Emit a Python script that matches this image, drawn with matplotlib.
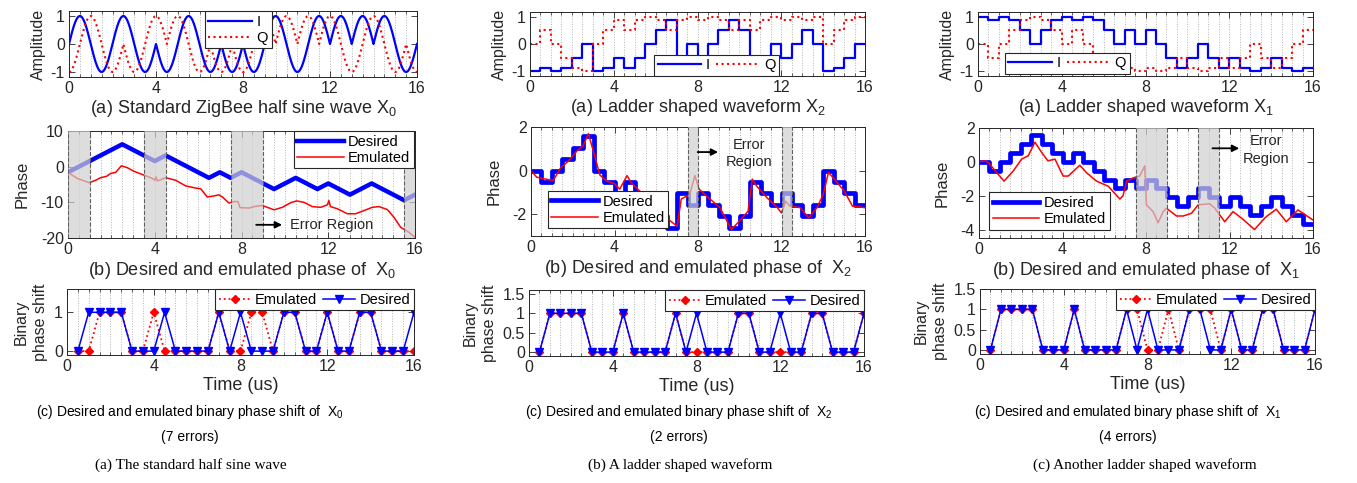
import numpy as np
import matplotlib
matplotlib.use('Agg')
import matplotlib.pyplot as plt
from matplotlib.ticker import MultipleLocator, FuncFormatter
from matplotlib import font_manager as fm

names = {f.name for f in fm.fontManager.ttflist}
SANS = 'Liberation Sans' if 'Liberation Sans' in names else 'DejaVu Sans'
NARROW = 'Liberation Sans Narrow' if 'Liberation Sans Narrow' in names else None
SERIF = 'Liberation Serif' if 'Liberation Serif' in names else 'DejaVu Serif'

plt.rcParams['font.family'] = SANS
plt.rcParams['axes.unicode_minus'] = False
plt.rcParams['mathtext.fontset'] = 'custom'
plt.rcParams['mathtext.rm'] = SANS

# ================= DATA =================
# --- Column 1: standard ZigBee half-sine wave X0 (chip values) ---
zb_I_chips = [1, -1, 1, -1, -1, 1, -1, -1, -1, 1, -1, 1, 1, 1, 1, -1]          # chips on [k, k+1]
zb_Q_chips = [-1, 1, -1, -1, 1, 1, -1, -1, -1, 1, 1, 1, 1, -1, 1, -1, -1]      # chips centred at k

zb_phase_t = [0, 2.5, 4, 4.5, 6.5, 7, 7.5, 8, 9.5, 10.5, 11.5, 12, 13, 14, 15.5, 16]
zb_phase_desired = [-1.57, 6.28, 1.57, 3.14, -3.14, -1.57, -3.14, -1.57, -6.28,
                    -3.14, -6.28, -4.71, -7.85, -4.71, -9.42, -7.85]
zb_emu_t = [0, 0.43, 0.97, 1.28, 1.5, 1.78, 1.97, 2.2, 2.46, 2.74, 3.04, 3.43, 3.89, 4.0,
            4.06, 4.12, 4.5, 4.96, 5.43, 5.89, 6.12, 6.42, 6.73, 6.96, 7.12, 7.42, 7.65,
            7.84, 7.93, 8.35, 8.65, 8.96, 9.19, 9.5, 9.88, 10.27, 10.54, 10.88, 11.27,
            11.65, 11.96, 12.03, 12.1, 12.42, 12.88, 13.26, 13.65, 14.03, 14.34, 14.72,
            15.03, 15.34, 15.72, 16.0]
zb_emu_v = [-1.6, -3.3, -4.5, -3.8, -3.1, -2.7, -1.9, -1.6, 0.25, -0.3, -1.3, -2.2, -3.3,
            -3.8, -2.9, -4.0, -3.1, -3.8, -5.4, -6.0, -6.2, -8.5, -8.2, -7.9, -8.5, -10.2,
            -9.8, -9.8, -11.5, -11.6, -11.1, -10.9, -11.4, -12.1, -11.4, -10.1, -9.6,
            -10.0, -11.2, -11.4, -10.7, -9.5, -11.2, -11.8, -13.2, -13.2, -12.3, -11.4,
            -11.2, -12.0, -14.2, -17.0, -18.4, -19.8]
zb_err = [(0, 1), (3.5, 4.5), (7.5, 9), (15.5, 16)]

# --- shared binary phase shift time points ---
shift_t = [0.5, 1, 1.5, 2, 2.5, 3, 3.5, 4, 4.5, 5, 5.5, 6, 6.5, 7, 7.5, 8,
           8.5, 9, 9.5, 10, 10.5, 11, 11.5, 12, 12.5, 13, 13.5, 14, 14.5, 15, 15.5, 16]
desired_bits = [0, 1, 1, 1, 1, 0, 0, 0, 1, 0, 0, 0, 0, 1, 0, 1,
                0, 0, 0, 1, 1, 0, 0, 1, 0, 0, 1, 1, 0, 0, 0, 1]
zb_emu_bits = [0, 0, 1, 1, 1, 0, 0, 1, 0, 0, 0, 0, 0, 1, 0, 0,
               1, 1, 0, 1, 1, 0, 0, 1, 0, 0, 1, 1, 0, 0, 0, 0]
x2_emu_bits = [0, 1, 1, 1, 1, 0, 0, 0, 1, 0, 0, 0, 0, 1, 0, 0,
               0, 0, 0, 1, 1, 0, 0, 0, 0, 0, 1, 1, 0, 0, 0, 1]
x1_emu_bits = [0, 1, 1, 1, 1, 0, 0, 0, 1, 0, 0, 0, 0, 1, 1, 0,
               0, 1, 0, 1, 1, 1, 0, 1, 0, 0, 1, 1, 0, 0, 0, 1]

# --- ladder segment start times (0.5 us steps) ---
seg_t = [0, 0.5, 1, 1.5, 2, 2.5, 3, 3.5, 4, 4.5, 5, 5.5, 6, 6.5, 7, 7.5, 8,
         8.5, 9, 9.5, 10, 10.5, 11, 11.5, 12, 12.5, 13, 13.5, 14, 14.5, 15, 15.5, 16]

# --- Column 2: ladder waveform X2 ---
x2_I = [-1, -0.87, -1, -0.87, -0.5, 0, -1, -0.87, -0.5, -0.87, -0.5, 0, 0.5, 0.87, -0.5, 0,
        -0.5, 0, 0.5, 0.87, 0.5, -0.87, -0.5, 0, -0.5, 0, 0.5, 0, -1, -0.87, -0.5, 0, 0]
x2_Q = [0, 0.5, 0, -0.5, -0.87, -1, 0, 0.5, 0.87, 0.5, 0.87, 1, 0.87, 0.5, 0.87, 1,
        0.87, 1, 0.87, 0.5, 0.87, 0.5, 0.87, 1, 0.87, 1, 0.87, 1, 0, 0.5, 0.87, 1, 1]
x2_phase = [0, -0.52, 0, 0.52, 1.05, 1.57, 0, -0.52, -1.05, -0.52, -1.05, -1.57, -2.09, -2.62,
            -1.05, -1.57, -1.05, -1.57, -2.09, -2.62, -2.09, -0.52, -1.05, -1.57, -1.05, -1.57,
            -2.09, -1.57, 0, -0.52, -1.05, -1.57, -1.57]
x2_emu_t = [0, 0.27, 0.75, 1.07, 1.4, 1.8, 2.2, 2.5, 2.75, 3.07, 3.3, 3.6, 4.0, 4.25, 4.6, 4.8,
            5.2, 5.7, 6.2, 6.66, 7.0, 7.2, 7.6, 7.85, 8.05, 8.4, 9.05, 9.6, 10.0, 10.4, 10.6,
            10.8, 11.3, 11.8, 12.0, 12.2, 12.4, 12.9, 13.3, 13.7, 14.0, 14.25, 14.6, 15.0,
            15.4, 16.0]
x2_emu_v = [0, -0.3, -0.4, -0.45, 0.1, 0.45, 0.9, 1.15, 1.7, 0.6, -0.2, -0.47, -0.6, -0.85,
            -0.23, -0.55, -0.93, -1.3, -1.7, -2.3, -2.55, -1.3, -1.1, -0.23, -0.85, -1.16,
            -1.7, -2.7, -2.3, -1.86, -0.39, -0.7, -1.24, -1.7, -1.94, -1.4, -1.63, -1.7,
            -2.17, -1.7, -1.1, -0.08, -0.47, -0.93, -1.63, -1.7]
x2_err = [(7.5, 8), (12, 12.5)]

# --- Column 3: ladder waveform X1 ---
x1_I = [1, 0.87, 1, 0.87, 0.5, 0, 0.5, 0.87, 1, 0.87, 1, 0.87, 0.5, 0, 0.5, 0,
        0.5, 0, -0.5, -0.87, -0.5, 0, -0.5, -0.87, -0.5, -0.87, -1, -0.87, -0.5, -0.87, -1, -0.87, -0.87]
x1_Q = [0, -0.5, 0, 0.5, 0.87, 1, 0.87, 0.5, 0, 0.5, 0, -0.5, -0.87, -1, -0.87, -1,
        -0.87, -1, -0.87, -0.5, -0.87, -1, -0.87, -0.5, -0.87, -0.5, 0, -0.5, -0.87, -0.5, 0, 0.5, 0.5]
x1_phase = [0, -0.52, 0, 0.52, 1.05, 1.57, 1.05, 0.52, 0, 0.52, 0, -0.52, -1.05, -1.57,
            -1.05, -1.57, -1.05, -1.57, -2.09, -2.62, -2.09, -1.57, -2.09, -2.62, -2.09,
            -2.62, -3.14, -2.62, -2.09, -2.62, -3.14, -3.67, -3.67]
x1_emu_t = [0, 0.3, 0.45, 0.85, 1.2, 1.64, 2.04, 2.36, 2.68, 3.0, 3.3, 3.64, 4.03, 4.27, 4.83,
            5.15, 5.63, 6.19, 6.75, 6.9, 7.07, 7.4, 7.7, 7.94, 8.02, 8.34, 8.58, 8.82, 8.98,
            9.46, 9.78, 10.18, 10.5, 11.05, 11.3, 11.77, 12.17, 12.65, 13.2, 13.6, 13.76,
            14.24, 14.72, 15.28, 16.0]
x1_emu_v = [0, 0.06, -0.04, -0.64, -1.14, -0.54, 0.16, 0.36, 1.16, 0.56, 0.06, 0.16, -0.84,
            -0.84, -0.2, -0.64, -1.14, -1.44, -2.2, -2.0, -1.14, -0.94, -0.84, -0.24, -2.54,
            -2.94, -3.6, -2.94, -2.74, -3.2, -3.2, -3.04, -2.54, -2.48, -2.74, -3.54, -2.94,
            -3.4, -4.0, -3.44, -3.24, -2.8, -3.54, -2.84, -3.44]
x1_err = [(7.5, 9), (10.5, 11.5)]

# ================= FIGURE =================
W, H = 1357, 483
fig = plt.figure(figsize=(W / 100, H / 100), dpi=100)


def add_ax(x0, y0, x1, y1):
    return fig.add_axes([x0 / W, 1 - y1 / H, (x1 - x0) / W, (y1 - y0) / H])


TICK_FS = 11.5
LAB_FS = 11.5
CAP_FS = 13
LEG_FS = 10.5
AXC = '#262626'
fmt = FuncFormatter(lambda v, p: ('%g' % v))


def style(ax, ylim, yticks):
    ax.set_xlim(0, 16)
    ax.set_ylim(*ylim)
    ax.set_xticks([0, 4, 8, 12, 16])
    ax.set_yticks(yticks)
    ax.yaxis.set_major_formatter(fmt)
    ax.xaxis.set_minor_locator(MultipleLocator(0.5))
    ax.grid(which='both', axis='x', ls=':', color='#b4b4b4', lw=0.7)
    ax.set_axisbelow(True)
    ax.tick_params(which='both', direction='in', top=True, right=True, colors=AXC,
                   labelsize=TICK_FS, pad=3)
    ax.tick_params(which='major', length=4, width=0.6)
    ax.tick_params(which='minor', length=2, width=0.5)
    for s in ax.spines.values():
        s.set_color(AXC)
        s.set_linewidth(0.7)


def legend(ax, **kw):
    lg = ax.legend(fontsize=LEG_FS, fancybox=False, framealpha=1, edgecolor=AXC,
                   borderpad=0.25, labelspacing=0.15, handletextpad=0.3,
                   columnspacing=0.4, borderaxespad=0, **kw)
    lg.get_frame().set_linewidth(0.8)
    return lg


def shade(ax, regions):
    for a, b in regions:
        ax.axvspan(a, b, color='#cfcfcf', alpha=0.7, lw=0, zorder=5)
        ax.axvline(a, color='#606060', ls='--', lw=0.8, zorder=6)
        ax.axvline(b, color='#606060', ls='--', lw=0.8, zorder=6)


def sub(label, d):
    return label + r' X$_{\mathregular{%s}}$' % d


BLUE = '#0000ff'
RED = '#ff0000'

# ---------- row 1 ----------
ax = add_ax(69, 11, 417, 77)
tt = np.linspace(0, 16, 3201)
kI = np.clip(np.floor(tt).astype(int), 0, 15)
Iw = np.array(zb_I_chips)[kI] * np.sin(np.pi * (tt - kI))
kQ = np.clip(np.round(tt).astype(int), 0, 16)
Qw = np.array(zb_Q_chips)[kQ] * np.cos(np.pi * (tt - kQ))
ax.plot(tt, Iw, color=BLUE, lw=1.6, label='I')
ax.plot(tt, Qw, color=RED, lw=1.5, ls=':', label='Q')
style(ax, (-1.18, 1.18), [-1, 0, 1])
ax.set_ylabel('Amplitude', fontsize=LAB_FS, color=AXC, labelpad=3)
ax.set_xlabel(sub('(a) Standard ZigBee half sine wave', '0'), fontsize=CAP_FS, color=AXC, labelpad=1)
legend(ax, loc='upper left', bbox_to_anchor=(0.39, 1.0), handlelength=3.0)

ax = add_ax(530, 12, 865, 76)
ax.plot(seg_t, x2_I, color=BLUE, lw=1.6, drawstyle='steps-post', label='I')
ax.plot(seg_t, x2_Q, color=RED, lw=1.5, ls=':', drawstyle='steps-post', label='Q')
style(ax, (-1.18, 1.18), [-1, 0, 1])
ax.set_ylabel('Amplitude', fontsize=LAB_FS, color=AXC, labelpad=3)
ax.set_xlabel(sub('(a) Ladder shaped waveform', '2'), fontsize=CAP_FS, color=AXC, labelpad=1)
legend(ax, loc='lower left', bbox_to_anchor=(0.37, 0.0), ncol=2, handlelength=3.0)

ax = add_ax(978, 12, 1313, 76)
ax.plot(seg_t, x1_I, color=BLUE, lw=1.6, drawstyle='steps-post', label='I')
ax.plot(seg_t, x1_Q, color=RED, lw=1.5, ls=':', drawstyle='steps-post', label='Q')
style(ax, (-1.18, 1.18), [-1, 0, 1])
ax.set_ylabel('Amplitude', fontsize=LAB_FS, color=AXC, labelpad=3)
ax.set_xlabel(sub('(a) Ladder shaped waveform', '1'), fontsize=CAP_FS, color=AXC, labelpad=1)
legend(ax, loc='lower left', bbox_to_anchor=(0.08, 0.03), ncol=2, handlelength=3.0)

# ---------- row 2 ----------
ax = add_ax(68, 131, 415, 238)
ax.plot(zb_phase_t, zb_phase_desired, color=BLUE, lw=3.2, label='Desired')
ax.plot(zb_emu_t, zb_emu_v, color=RED, lw=1.1, label='Emulated')
shade(ax, zb_err)
style(ax, (-20, 10), [-20, -10, 0, 10])
ax.set_ylabel('Phase', fontsize=LAB_FS + 0.5, color=AXC, labelpad=8)
ax.set_xlabel(sub('(b) Desired and emulated phase of ', '0'), fontsize=CAP_FS, color=AXC, labelpad=2)
lg = legend(ax, loc='upper left', bbox_to_anchor=(0.65, 1.0), handlelength=3.2)
lg.set_zorder(10)
ax.annotate('', xy=(10.0, -16.3), xytext=(8.55, -16.3),
            arrowprops=dict(arrowstyle='-|>', color='k', lw=1.3, mutation_scale=10), zorder=10)
ax.text(10.25, -16.3, 'Error Region', fontsize=LEG_FS, va='center', ha='left', color=AXC, zorder=10)

ax = add_ax(531, 127, 865, 236)
ax.plot(seg_t, x2_phase, color=BLUE, lw=3.4, drawstyle='steps-post', label='Desired')
ax.plot(x2_emu_t, x2_emu_v, color=RED, lw=1.1, label='Emulated')
shade(ax, x2_err)
style(ax, (-3, 2), [-2, 0, 2])
ax.set_ylabel('Phase', fontsize=LAB_FS + 0.5, color=AXC, labelpad=8)
ax.set_xlabel(sub('(b) Desired and emulated phase of ', '2'), fontsize=CAP_FS, color=AXC, labelpad=2)
lg = legend(ax, loc='lower left', bbox_to_anchor=(0.05, 0.07), handlelength=3.2)
lg.set_zorder(10)
ax.annotate('', xy=(9.1, 0.85), xytext=(7.85, 0.85),
            arrowprops=dict(arrowstyle='-|>', color='k', lw=1.3, mutation_scale=10), zorder=10)
ax.text(10.45, 0.8, 'Error\nRegion', fontsize=LEG_FS, va='center', ha='center', color=AXC,
        linespacing=1.3, zorder=10)

ax = add_ax(979, 128, 1313, 238)
ax.plot(seg_t, x1_phase, color=BLUE, lw=3.4, drawstyle='steps-post', label='Desired')
ax.plot(x1_emu_t, x1_emu_v, color=RED, lw=1.1, label='Emulated')
shade(ax, x1_err)
style(ax, (-4.5, 2), [-4, -2, 0, 2])
ax.set_ylabel('Phase', fontsize=LAB_FS + 0.5, color=AXC, labelpad=8)
ax.set_xlabel(sub('(b) Desired and emulated phase of ', '1'), fontsize=CAP_FS, color=AXC, labelpad=2)
lg = legend(ax, loc='lower left', bbox_to_anchor=(0.03, 0.075), handlelength=3.2)
lg.set_zorder(10)
ax.annotate('', xy=(12.6, 0.8), xytext=(11.05, 0.8),
            arrowprops=dict(arrowstyle='-|>', color='k', lw=1.3, mutation_scale=10), zorder=10)
ax.text(13.75, 0.7, 'Error\nRegion', fontsize=LEG_FS, va='center', ha='center', color=AXC,
        linespacing=1.3, zorder=10)

# ---------- row 3 ----------
rows3 = [((67, 289, 414, 355), zb_emu_bits, (-0.1, 1.6), [0, 1]),
         ((529, 290, 864, 356), x2_emu_bits, (-0.1, 1.6), [0, 0.5, 1, 1.5]),
         ((980, 289, 1315, 354), x1_emu_bits, (-0.1, 1.5), [0, 0.5, 1, 1.5])]
for rect, emu, yl, yt in rows3:
    ax = add_ax(*rect)
    ax.plot(shift_t, emu, color=RED, ls=':', lw=1.3, marker='D', ms=4.2, mec=RED, mfc=RED,
            label='Emulated')
    ax.plot(shift_t, desired_bits, color=BLUE, ls='-', lw=1.1, marker='v', ms=5.5, mec=BLUE,
            mfc=BLUE, label='Desired')
    style(ax, yl, yt)
    ax.set_ylabel('Binary\nphase shift', fontsize=LAB_FS, color=AXC, labelpad=4, linespacing=1.35)
    ax.set_xlabel('Time (us)', fontsize=CAP_FS, color=AXC, labelpad=2)
    legend(ax, loc='upper right', bbox_to_anchor=(1.0, 1.0), ncol=2, handlelength=2.2)

# ---------- captions ----------
if NARROW:
    cap_kw = dict(family=NARROW, fontsize=11.5)
else:
    cap_kw = dict(family=SANS, fontsize=10)
caps = [(190, '0', '(7 errors)'), (679, '2', '(2 errors)'), (1128, '1', '(4 errors)')]
for x, d, e in caps:
    fig.text(x / W, 1 - 412 / H, sub('(c) Desired and emulated binary phase shift of ', d),
             ha='center', va='center', color='k', **cap_kw)
    fig.text(x / W, 1 - 437 / H, e, ha='center', va='center', color='k', **cap_kw)

subcaps = [(191, '(a) The standard half sine wave'), (680, '(b) A ladder shaped waveform'),
           (1145, '(c) Another ladder shaped waveform')]
for x, s in subcaps:
    fig.text(x / W, 1 - 465 / H, s, ha='center', va='center', family=SERIF, fontsize=11, color='k')

fig.savefig('out.png', dpi=100)
